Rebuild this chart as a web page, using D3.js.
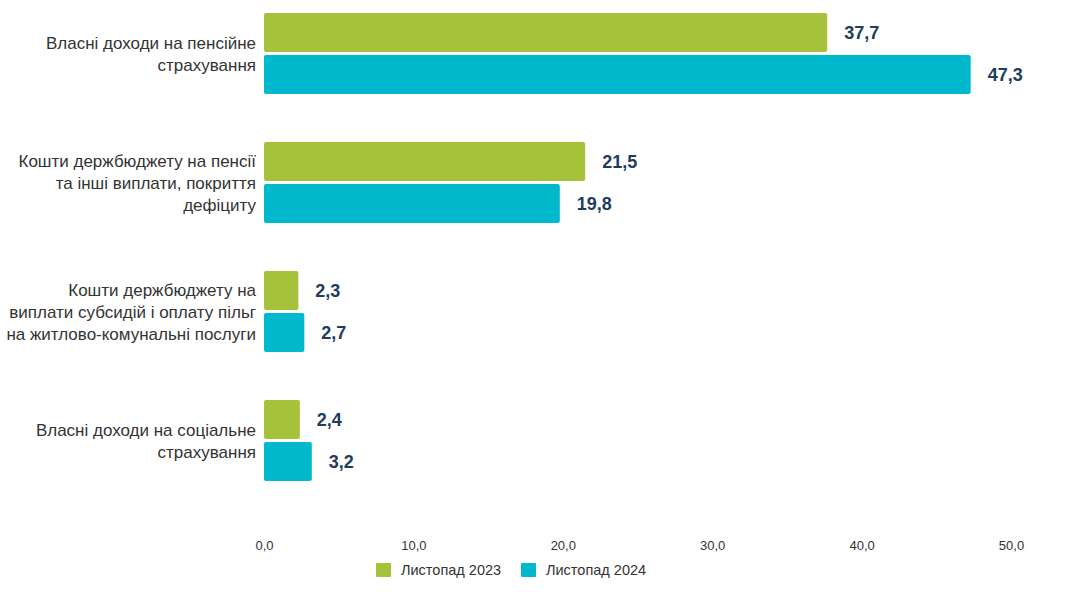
<!DOCTYPE html>
<html><head><meta charset="utf-8">
<script src="https://cdn.jsdelivr.net/npm/d3@7"></script>
<style>
body{margin:0;background:#fff;}
svg{display:block;font-family:"Liberation Sans",Arial,sans-serif;}
</style></head>
<body>
<svg id="c" width="1080" height="605"></svg>
<script>
const categories = [
  ["Власні доходи на пенсійне","страхування"],
  ["Кошти держбюджету на пенсії","та інші виплати, покриття","дефіциту"],
  ["Кошти держбюджету на","виплати субсидій і оплату пільг","на житлово-комунальні послуги"],
  ["Власні доходи на соціальне","страхування"]
];
const seriesNames = ["Листопад 2023","Листопад 2024"];
const values2023 = [37.7, 21.5, 2.3, 2.4];
const values2024 = [47.3, 19.8, 2.7, 3.2];
const xTicks = [0,10,20,30,40,50];
const colors = ["#a6c23b","#00b9cc"];

const svg = d3.select("#c");
const catKeys = categories.map((c,i)=>"c"+i);
const x = d3.scaleLinear().domain([0,50]).range([264,1011]);
const y0 = d3.scaleBand().domain(catKeys).range([13,481]).paddingInner(0.372).paddingOuter(0);
const y1 = d3.scaleBand().domain(seriesNames).range([0,y0.bandwidth()]).paddingInner(0.07);
const fmt = v => d3.format(".1f")(v).replace(".",",");

const data = categories.map((c,i)=>({key:catKeys[i], lines:c, vals:[values2023[i],values2024[i]]}));

const g = svg.selectAll("g.cat").data(data).join("g").attr("class","cat")
  .attr("transform",d=>`translate(0,${y0(d.key)})`);

g.selectAll("rect").data(d=>d.vals.map((v,j)=>({v,s:seriesNames[j],j}))).join("rect")
  .attr("x",x(0)).attr("y",d=>y1(d.s)).attr("width",d=>x(d.v)-x(0))
  .attr("height",y1.bandwidth()).attr("rx",2).attr("fill",d=>colors[d.j]);

g.selectAll("text.val").data(d=>d.vals.map((v,j)=>({v,s:seriesNames[j],j}))).join("text")
  .attr("class","val").attr("x",d=>x(d.v)+17).attr("y",d=>y1(d.s)+y1.bandwidth()/2)
  .attr("dy","0.35em").attr("font-size",18).attr("font-weight","bold").attr("fill","#1d3d5e")
  .text(d=>fmt(d.v));

g.each(function(d){
  const n = d.lines.length, lh = 22;
  const cy = y0.bandwidth()/2;
  const t = d3.select(this).append("text").attr("text-anchor","end").attr("font-size",17).attr("fill","#333");
  d.lines.forEach((l,k)=>{
    t.append("tspan").attr("x",256).attr("y",cy + (k-(n-1)/2)*lh + 1).attr("dy","0.35em").text(l);
  });
});

const ax = svg.append("g").attr("transform","translate(0,536)")
  .call(d3.axisBottom(x).tickValues(xTicks).tickSize(0).tickPadding(5).tickFormat(fmt));
ax.select(".domain").remove();
ax.selectAll("text").attr("font-size",13).attr("fill","#333").attr("font-family","'Liberation Sans',Arial,sans-serif");

const legX = [376, 521];
const lg = svg.selectAll("g.leg").data(seriesNames).join("g").attr("class","leg")
  .attr("transform",(d,i)=>`translate(${legX[i]},563)`);
lg.append("rect").attr("width",15).attr("height",14).attr("rx",1).attr("fill",(d,i)=>colors[i]);
lg.append("text").attr("x",25).attr("y",7).attr("dy","0.35em").attr("font-size",14.5).attr("fill","#333").text(d=>d);
</script>
</body></html>
